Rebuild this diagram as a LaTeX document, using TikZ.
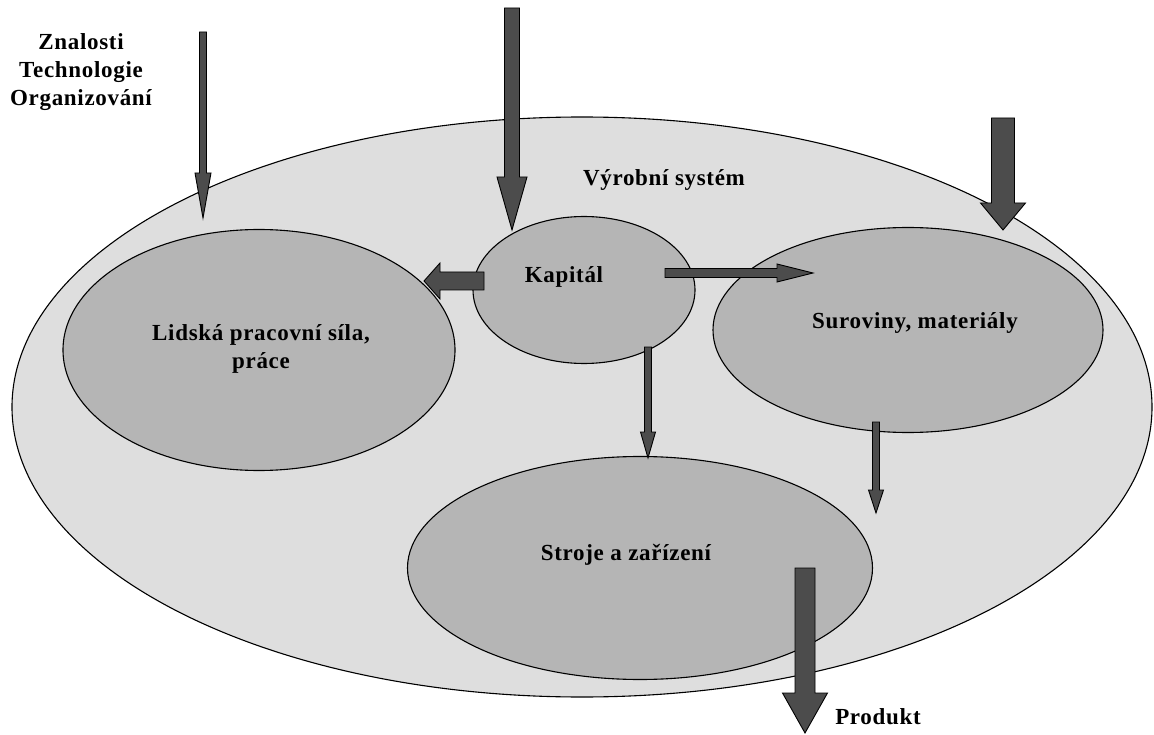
\documentclass[tikz,border=0pt]{standalone}
\usepackage{fontspec}
\setmainfont{Liberation Serif}[LetterSpace=3]
\usetikzlibrary{shapes.geometric,calc}

\definecolor{systemgray}{gray}{0.87}
\definecolor{partgray}{gray}{0.71}
\definecolor{arrowgray}{gray}{0.30}

\tikzset{
  system/.style={ellipse, draw=black, line width=1.1pt, fill=systemgray, inner sep=0pt},
  part/.style={ellipse, draw=black, line width=1.1pt, fill=partgray, inner sep=0pt},
  lbl/.style={font=\fontsize{23}{28}\selectfont\bfseries, align=center, inner sep=0pt},
  blockarrow/.style={draw=black, line width=0.9pt, fill=arrowgray, line join=miter},
}

% block arrow from #1 to #2: shaft half width #3, head half width #4, head length #5
\newcommand\blockarrow[5]{%
  \draw[blockarrow] let \p1=(#1), \p2=(#2),
      \n1={atan2(\y2-\y1,\x2-\x1)}, \n2={veclen(\x2-\x1,\y2-\y1)} in
    [shift={(\p1)}, rotate=\n1]
    (0,-#3) -- ({\n2-#5},-#3) -- ({\n2-#5},-#4) -- (\n2,0)
    -- ({\n2-#5},#4) -- ({\n2-#5},#3) -- (0,#3) -- cycle;
}

\begin{document}
\begin{tikzpicture}[x=1pt, y=-1pt]
  \useasboundingbox (0,0) rectangle (1154,735);

  % production system and its parts
  \node[system, minimum width=1140pt, minimum height=580pt] (system) at (582,407) {};
  \node[part, minimum width=392pt, minimum height=241pt] (labour) at (259,350) {};
  \node[part, minimum width=222pt, minimum height=147pt] (capital) at (584,290) {};
  \node[part, minimum width=390pt, minimum height=205pt] (material) at (908,330) {};
  \node[part, minimum width=465pt, minimum height=223pt] (machines) at (640,568) {};

  % labels
  \node[lbl] (know) at (81,72) {Znalosti\\Technologie\\Organizování};
  \node[lbl] (systemlbl) at (664,180) {Výrobní systém};
  \node[lbl] (capitallbl) at (564,277) {Kapitál};
  \node[lbl] (labourlbl) at (261,349) {Lidská pracovní síla,\\práce};
  \node[lbl] (materiallbl) at (915,323) {Suroviny, materiály};
  \node[lbl] (machineslbl) at (626,555) {Stroje a zařízení};
  \node[lbl] (productlbl) at (878,717) {Produkt};

  % arrow end points
  \coordinate (knowS) at (203,32);    \coordinate (knowE) at (203,218);
  \coordinate (capS) at (512,8);      \coordinate (capE) at (512,230);
  \coordinate (matS) at (1003,118);   \coordinate (matE) at (1003,230);
  \coordinate (c2lS) at (484,281);    \coordinate (c2lE) at (424,281);
  \coordinate (c2mS) at (665,273);    \coordinate (c2mE) at (813,273);
  \coordinate (c2sS) at (648,347);    \coordinate (c2sE) at (648,458);
  \coordinate (m2dS) at (876,422);    \coordinate (m2dE) at (876,513);
  \coordinate (prodS) at (805,568);   \coordinate (prodE) at (805,733);

  % flows
  \blockarrow{knowS}{knowE}{3.5}{8}{45}
  \blockarrow{capS}{capE}{7.5}{15}{53}
  \blockarrow{matS}{matE}{11.5}{22.5}{27}
  \blockarrow{c2lS}{c2lE}{9}{18}{16}
  \blockarrow{c2mS}{c2mE}{4.5}{9}{36}
  \blockarrow{c2sS}{c2sE}{3.5}{7.5}{26}
  \blockarrow{m2dS}{m2dE}{3.5}{7.5}{23}
  \blockarrow{prodS}{prodE}{10}{22.5}{40}
\end{tikzpicture}
\end{document}
